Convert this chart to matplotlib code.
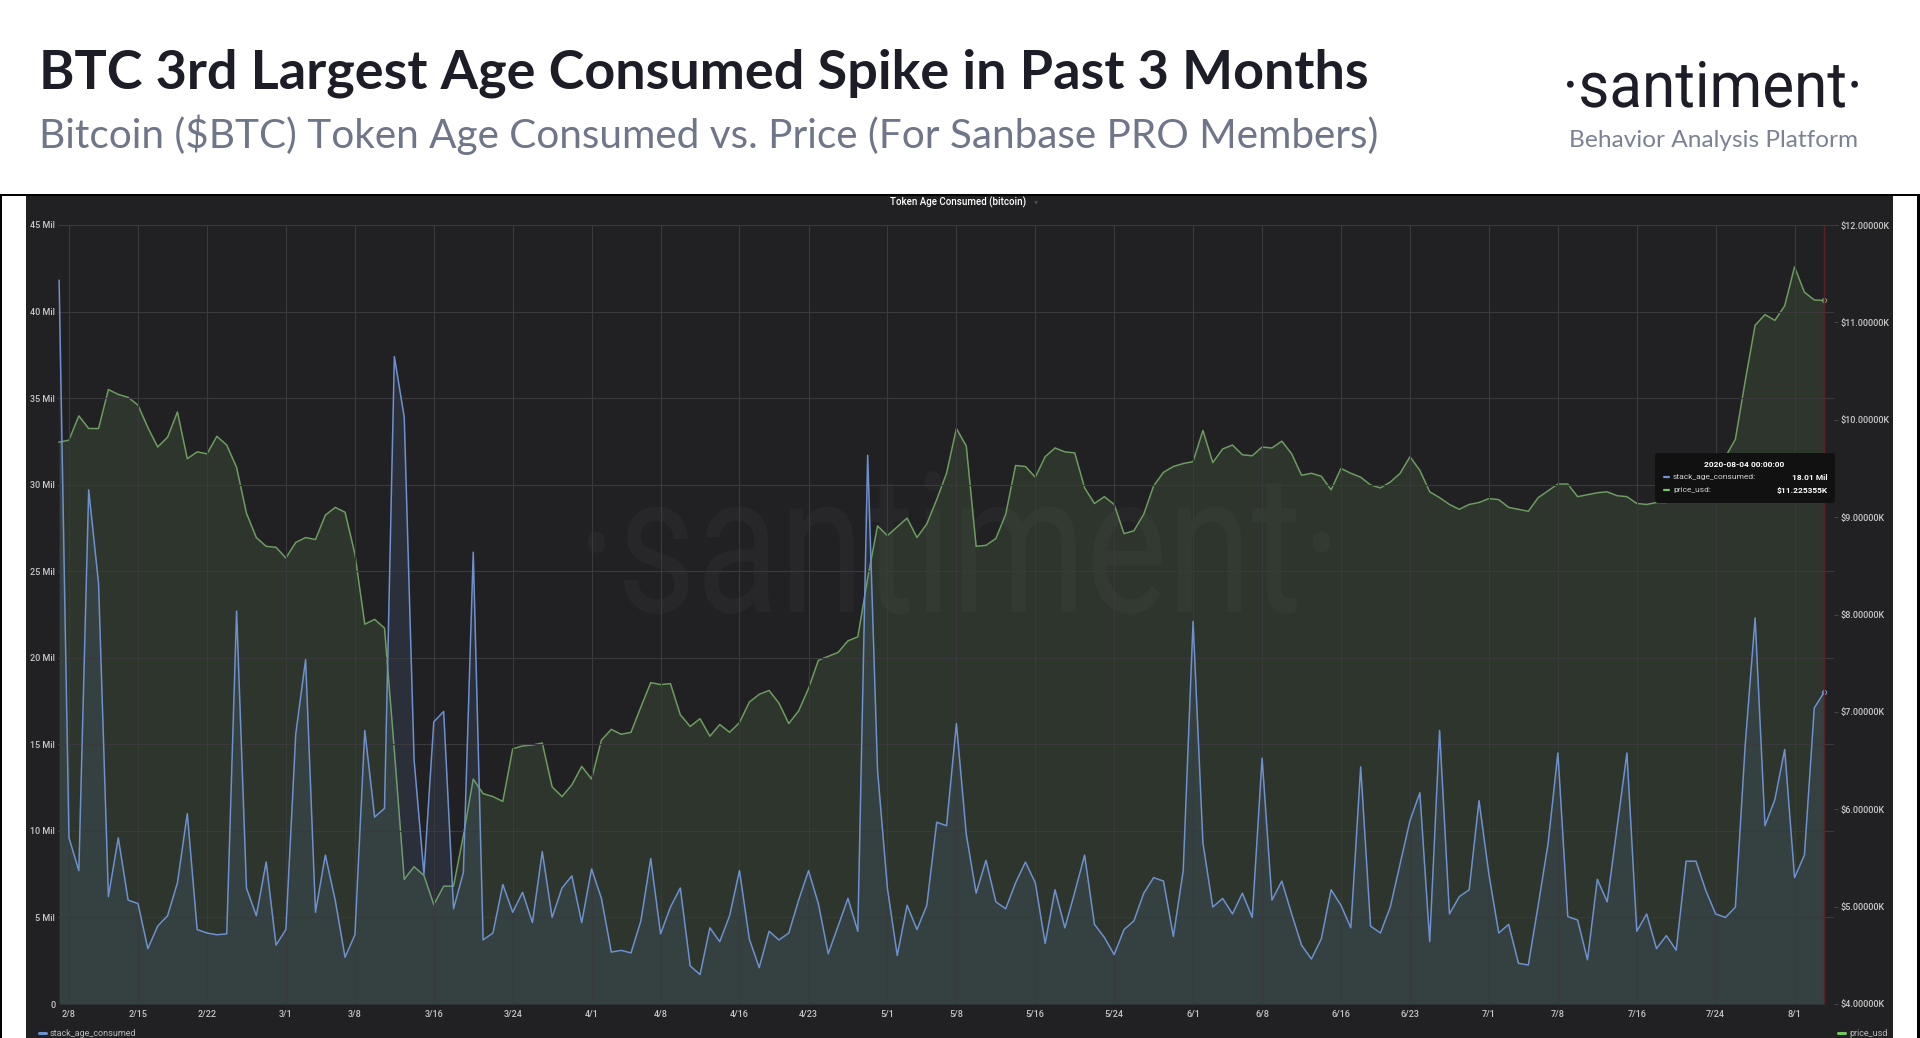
import matplotlib
matplotlib.use("Agg")
import matplotlib.pyplot as plt
import pandas as pd
from matplotlib.textpath import TextPath
from matplotlib.font_manager import FontProperties
from matplotlib.patches import PathPatch, Rectangle, FancyBboxPatch
from matplotlib.lines import Line2D
from matplotlib.transforms import Affine2D, IdentityTransform

# daily values, 2020-02-07 .. 2020-08-04
start_date = "2020-02-07"
age_consumed_mil = [
    41.8, 9.6, 7.7, 29.7, 24.3, 6.2, 9.6, 6.0, 5.8, 3.2,
    4.5, 5.1, 7.0, 11.0, 4.3, 4.1, 4.0, 4.05, 22.7, 6.7,
    5.1, 8.2, 3.4, 4.3, 15.6, 19.9, 5.3, 8.6, 6.0, 2.7,
    4.0, 15.8, 10.8, 11.3, 37.4, 33.9, 14.1, 7.5, 16.3, 16.9,
    5.5, 7.6, 26.1, 3.7, 4.1, 6.9, 5.3, 6.45, 4.7, 8.8,
    5.0, 6.7, 7.4, 4.7, 7.8, 6.1, 3.0, 3.1, 2.95, 4.8,
    8.4, 4.05, 5.6, 6.7, 2.2, 1.7, 4.4, 3.6, 5.1, 7.7,
    3.75, 2.1, 4.2, 3.7, 4.1, 6.0, 7.7, 5.8, 2.9, 4.5,
    6.1, 4.2, 31.7, 13.5, 6.7, 2.8, 5.7, 4.3, 5.7, 10.5,
    10.3, 16.2, 9.8, 6.4, 8.3, 5.9, 5.5, 7.0, 8.2, 7.0,
    3.5, 6.6, 4.4, 6.45, 8.6, 4.6, 3.85, 2.85, 4.3, 4.8,
    6.4, 7.3, 7.1, 3.9, 7.7, 22.1, 9.3, 5.6, 6.1, 5.2,
    6.4, 5.0, 14.2, 6.0, 7.1, 5.2, 3.4, 2.6, 3.75, 6.6,
    5.7, 4.4, 13.7, 4.5, 4.1, 5.6, 8.1, 10.6, 12.2, 3.6,
    15.8, 5.2, 6.2, 6.6, 11.75, 7.5, 4.1, 4.6, 2.35, 2.25,
    5.7, 9.25, 14.5, 5.05, 4.85, 2.55, 7.2, 5.9, 10.2, 14.5,
    4.2, 5.2, 3.2, 3.95, 3.1, 8.25, 8.25, 6.55, 5.2, 5.0,
    5.6, 15.0, 22.3, 10.3, 11.8, 14.7, 7.3, 8.6, 17.1, 18.01,
]
price_usd_k = [
    9.77, 9.79, 10.04, 9.91, 9.91, 10.31, 10.26, 10.23, 10.15, 9.92,
    9.72, 9.82, 10.08, 9.60, 9.67, 9.65, 9.83, 9.74, 9.51, 9.04,
    8.79, 8.70, 8.69, 8.58, 8.74, 8.79, 8.77, 9.02, 9.10, 9.05,
    8.62, 7.90, 7.95, 7.86, 6.60, 5.28, 5.41, 5.32, 5.02, 5.21,
    5.21, 5.73, 6.31, 6.16, 6.13, 6.08, 6.62, 6.65, 6.66, 6.68,
    6.23, 6.13, 6.25, 6.44, 6.31, 6.71, 6.82, 6.77, 6.79, 7.05,
    7.30, 7.28, 7.29, 6.97, 6.85, 6.93, 6.75, 6.87, 6.79, 6.89,
    7.10, 7.18, 7.22, 7.09, 6.88, 7.01, 7.24, 7.53, 7.57, 7.61,
    7.73, 7.77, 8.37, 8.91, 8.81, 8.90, 8.99, 8.79, 8.93, 9.18,
    9.45, 9.91, 9.73, 8.70, 8.71, 8.78, 9.03, 9.53, 9.52, 9.41,
    9.62, 9.71, 9.67, 9.66, 9.30, 9.14, 9.21, 9.13, 8.83, 8.86,
    9.03, 9.32, 9.46, 9.52, 9.55, 9.57, 9.89, 9.56, 9.70, 9.74,
    9.64, 9.63, 9.72, 9.71, 9.78, 9.65, 9.43, 9.45, 9.42, 9.28,
    9.50, 9.45, 9.41, 9.33, 9.30, 9.36, 9.45, 9.62, 9.48, 9.26,
    9.20, 9.13, 9.08, 9.13, 9.15, 9.19, 9.18, 9.10, 9.08, 9.06,
    9.20, 9.27, 9.34, 9.34, 9.21, 9.23, 9.25, 9.26, 9.22, 9.21,
    9.14, 9.13, 9.15, 9.15, 9.17, 9.20, 9.22, 9.25, 9.40, 9.62,
    9.80, 10.40, 10.97, 11.08, 11.02, 11.17, 11.57, 11.31, 11.23, 11.225,
]
tick_dates = ["2020-02-08", "2020-02-15", "2020-02-22", "2020-03-01", "2020-03-08",
              "2020-03-16", "2020-03-24", "2020-04-01", "2020-04-08", "2020-04-16",
              "2020-04-23", "2020-05-01", "2020-05-08", "2020-05-16", "2020-05-24",
              "2020-06-01", "2020-06-08", "2020-06-16", "2020-06-23", "2020-07-01",
              "2020-07-08", "2020-07-16", "2020-07-24", "2020-08-01"]
tick_labels = ["2/8", "2/15", "2/22", "3/1", "3/8", "3/16", "3/24", "4/1", "4/8", "4/16",
               "4/23", "5/1", "5/8", "5/16", "5/24", "6/1", "6/8", "6/16", "6/23", "7/1",
               "7/8", "7/16", "7/24", "8/1"]
left_ticks = [0, 5, 10, 15, 20, 25, 30, 35, 40, 45]
left_labels = ["0"] + [f"{v} Mil" for v in left_ticks[1:]]
right_ticks = [4, 5, 6, 7, 8, 9, 10, 11, 12]
right_labels = [f"${v:.5f}K" for v in right_ticks]

BLUE = "#6d91cf"
GREEN = "#6c9d5e"
PANEL = "#212124"
TICK_C = "#c8c8c8"

plt.rcParams["font.family"] = ["Roboto", "DejaVu Sans"]

W, H = 1920, 1038
fig = plt.figure(figsize=(W / 100, H / 100), dpi=100, facecolor="white")
PX = IdentityTransform()
renderer = fig.canvas.get_renderer()


def rect(x0, y0, x1, y1, color, z=-10):
    fig.add_artist(Rectangle((x0, H - y1), x1 - x0, y1 - y0, transform=PX,
                             fc=color, ec="none", zorder=z))


def fit_text(x, y, s, width, **kw):
    t = fig.text(x / W, 1 - y / H, s, fontsize=20, **kw)
    w = t.get_window_extent(renderer).width
    t.set_fontsize(20 * width / w)
    return t


def path_text(s, x0, x1, ytop, ybase, color, alpha, z, weight="normal"):
    tp = TextPath((0, 0), s, size=100, prop=FontProperties(family="Roboto", weight=weight))
    bb = tp.get_extents()
    tr = (Affine2D().translate(-bb.x0, 0)
          .scale((x1 - x0) / bb.width, (ybase - ytop) / bb.y1)
          .translate(x0, H - ybase))
    fig.add_artist(PathPatch(tr.transform_path(tp), transform=PX, fc=color,
                             ec="none", alpha=alpha, zorder=z))


def px_line(x0, x1, y, color, lw=2.2, z=7):
    fig.add_artist(Line2D([x0, x1], [H - y, H - y], transform=PX, color=color,
                          lw=lw, solid_capstyle="round", zorder=z))


# frame + dark panel
rect(0, 194, 1920, 1038, "black", z=-12)
rect(2, 196, 1917, 1038, "white", z=-11)
rect(26, 196, 1893, 1038, PANEL, z=-10)

# header
fit_text(39, 89, "BTC 3rd Largest Age Consumed Spike in Past 3 Months", 1330,
         family="Lato", weight="bold", color="#1c1d27", va="baseline")
fit_text(39, 148, "Bitcoin ($BTC) Token Age Consumed vs. Price (For Sanbase PRO Members)", 1343,
         family="Lato", color="#6f7689", va="baseline")
path_text("\u00b7santiment\u00b7", 1567, 1858, 61, 107, "#1c1d27", 1.0, 3)
fit_text(1569, 147, "Behavior Analysis Platform", 288,
         family="Lato", color="#7b8296", va="baseline")

# watermark
path_text("\u00b7santiment\u00b7", 588, 1330, 471, 612, "white", 0.03, -5)

# chart
dates = pd.date_range(start_date, periods=len(age_consumed_mil), freq="D")
ax = fig.add_axes([58 / W, 1 - 1004 / H, (1834 - 58) / W, (1004 - 225) / H])
ax2 = ax.twinx()
ax.set_zorder(ax2.get_zorder() + 1)
ax.patch.set_visible(False)
ax2.patch.set_visible(False)

ax2.fill_between(dates, price_usd_k, 4, color=GREEN, alpha=0.17, lw=0)
ax2.plot(dates, price_usd_k, color=GREEN, lw=1.1)
ax2.plot(dates[-1:], price_usd_k[-1:], "o", ms=3, mfc="none", mec=GREEN, mew=0.8)

ax.fill_between(dates, age_consumed_mil, 0, color=BLUE, alpha=0.13, lw=0)
ax.plot(dates, age_consumed_mil, color=BLUE, lw=1.1)
ax.plot(dates[-1:], age_consumed_mil[-1:], "o", ms=3, mfc="none", mec=BLUE, mew=0.8)
ax.axvline(dates[-1], color="#5c2124", lw=1.0)

ax.set_xlim(dates[0] - pd.Timedelta(hours=2.7), dates[1] + pd.Timedelta(days=179))
ax.set_ylim(0, 45)
ax2.set_ylim(4, 12)

ax.set_xticks(pd.to_datetime(tick_dates))
ax.set_xticklabels(tick_labels)
ax.set_yticks(left_ticks)
ax.set_yticklabels(left_labels)
ax2.set_yticks(right_ticks)
ax2.set_yticklabels(right_labels)

ax.grid(True, color="#3a3a3d", lw=0.8)
for a in (ax, ax2):
    for sp in a.spines.values():
        sp.set_visible(False)
ax.tick_params(axis="x", length=0, pad=4, labelsize=6.5, labelcolor=TICK_C)
ax.tick_params(axis="y", length=0, pad=2, labelsize=6.5, labelcolor=TICK_C)
ax2.tick_params(axis="y", length=3, width=0.6, color="#4a4a4c", pad=1.5,
                labelsize=6.5, labelcolor=TICK_C)
for lab in ax.get_xticklabels() + ax.get_yticklabels() + ax2.get_yticklabels():
    lab.set_fontweight("medium")

# chart title
fig.text(958 / W, 1 - 202 / H, "Token Age Consumed (bitcoin)", ha="center", va="center",
         color="white", fontsize=7, fontweight="medium")
fig.text(1036 / W, 1 - 202 / H, "\u25be", ha="center", va="center", color="#4a4a4c",
         fontsize=6, family="DejaVu Sans")

# legend
px_line(39, 46, 1033, BLUE)
fig.text(50 / W, 1 - 1033 / H, "stack_age_consumed", va="center", color="#b8b8b8", fontsize=6.5)
px_line(1838, 1845, 1033, "#72c862")
fig.text(1849 / W, 1 - 1033 / H, "price_usd", va="center", color="#b8b8b8", fontsize=6.5)

# tooltip
fig.add_artist(FancyBboxPatch((1655, H - 503), 180, 50, boxstyle="round,pad=0,rounding_size=3",
                              transform=PX, fc="#111112", ec="none", zorder=6))
fig.text(1744.5 / W, 1 - 464 / H, "2020-08-04 00:00:00", ha="center", va="center",
         color="white", fontsize=6, fontweight="bold", zorder=7)
px_line(1664, 1669, 477, BLUE, lw=1.6)
fig.text(1673 / W, 1 - 477 / H, "stack_age_consumed:", va="center", color="#d0d0d0",
         fontsize=6, zorder=7)
fig.text(1827.5 / W, 1 - 477 / H, f"{age_consumed_mil[-1]:.2f} Mil", ha="right", va="center",
         color="white", fontsize=6, fontweight="bold", zorder=7)
px_line(1664, 1669, 490, "#72c862", lw=1.6)
fig.text(1673 / W, 1 - 490 / H, "price_usd:", va="center", color="#d0d0d0",
         fontsize=6, zorder=7)
fig.text(1827.5 / W, 1 - 490 / H, "$11.225355K", ha="right", va="center",
         color="white", fontsize=6, fontweight="bold", zorder=7)

fig.savefig("out.png", dpi=100, facecolor="white")
